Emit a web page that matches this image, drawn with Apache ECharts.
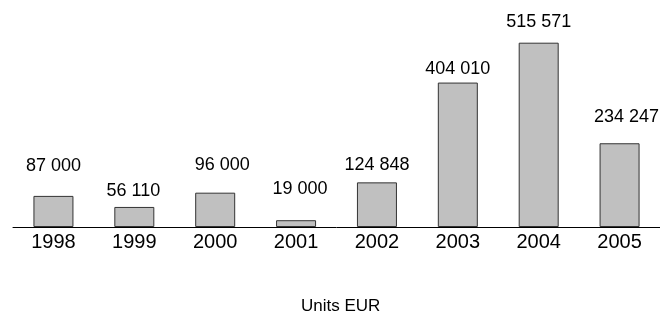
<!DOCTYPE html>
<html>
<head>
<meta charset="utf-8">
<script src="https://cdn.jsdelivr.net/npm/echarts@6/dist/echarts.min.js"></script>
<style>
    html, body { margin: 0; padding: 0; background: #fff; }
    #chart { width: 660px; height: 314px; }
</style>
</head>
<body>
<div id="chart"></div>
<script type="text/javascript">
    // data
    let years = ['1998', '1999', '2000', '2001', '2002', '2003', '2004', '2005'];
    let amounts = [87000, 56110, 96000, 19000, 124848, 404010, 515571, 234247];
    let unitText = 'Units EUR';

    // label placement tweaks (dx, distance above bar)
    let labelNudge = [[0, 21], [-1, 7], [7, 19], [4, 22], [0, 8], [0, 5], [0, 12], [7, 17]];

    let fmt = function (v) {
        return String(v).replace(/\B(?=(\d{3})+(?!\d))/g, ' ');
    };

    let chart = echarts.init(document.getElementById('chart'));

    let option = {
        animation: false,
        textStyle: { fontFamily: '"Liberation Sans", Arial, sans-serif' },
        title: {
            text: unitText,
            left: 296,
            top: 293,
            textStyle: { fontSize: 17, fontWeight: 'normal', color: '#000' }
        },
        grid: {
            left: 13,
            top: 0,
            width: 648,
            height: 227,
            containLabel: false
        },
        xAxis: {
            type: 'category',
            data: years,
            axisLine: { lineStyle: { color: '#000', width: 1 } },
            axisTick: { show: false },
            axisLabel: { color: '#000', fontSize: 20, margin: 5 }
        },
        yAxis: {
            type: 'value',
            min: 0,
            max: 635000,
            show: false,
            splitLine: { show: false }
        },
        series: [
            {
                type: 'bar',
                barWidth: 40,
                data: amounts.map(function (v, i) {
                    return {
                        value: v,
                        label: { offset: [labelNudge[i][0], 0], distance: labelNudge[i][1] }
                    };
                }),
                itemStyle: { color: '#c0c0c0', borderColor: '#333', borderWidth: 1 },
                label: {
                    show: true,
                    position: 'top',
                    color: '#000',
                    fontSize: 18,
                    formatter: function (p) { return fmt(p.value); }
                }
            }
        ]
    };

    chart.setOption(option);
</script>
</body>
</html>
